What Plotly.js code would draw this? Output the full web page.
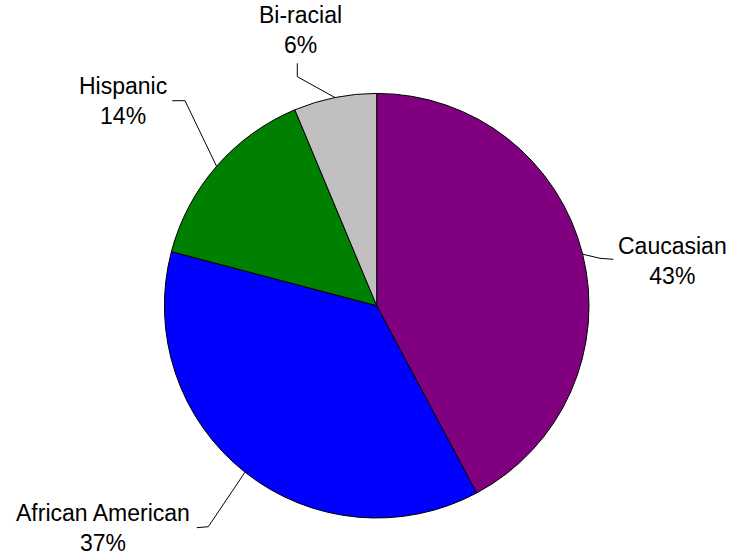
<!DOCTYPE html>
<html>
<head>
<meta charset="utf-8">
<script src="https://cdn.plot.ly/plotly-3.0.1.min.js"></script>
<style>html,body{margin:0;padding:0;background:#fff;}</style>
</head>
<body>
<div id="chart" style="width:733px;height:555px;"></div>
<script>
// Data
var categories = ['Caucasian', 'African American', 'Hispanic', 'Bi-racial'];
var values = [42.2, 36.9, 14.6, 6.3];
var percentLabels = ['43%', '37%', '14%', '6%'];
var colors = ['#800080', '#0000FF', '#008000', '#C0C0C0'];

var W = 733, H = 555;
var cx = 376.7, cy = 305.7, R = 212.3;

function px(x) { return x / W; }
function py(y) { return 1 - y / H; }

// label placement (layout only): text center and leader-line start/elbow
var labelLayout = [
  {tx: 672.5, ty: 261, start: [613.3, 259.3], elbow: [600, 258.3]},
  {tx: 102.5, ty: 528, start: [196.7, 527.7], elbow: [208.3, 526.7]},
  {tx: 123, ty: 101, start: [172.3, 100.7], elbow: [185, 100.7]},
  {tx: 300, ty: 29.5, start: [297.3, 63.3], elbow: [297.3, 76.7]}
];

var total = values.reduce(function (a, b) { return a + b; }, 0);
var cum = 0;
var annotations = [], shapes = [];
for (var i = 0; i < values.length; i++) {
  var midFrac = (cum + values[i] / 2) / total;
  cum += values[i];
  var th = midFrac * 2 * Math.PI;
  var ex = cx + R * Math.sin(th), ey = cy - R * Math.cos(th);
  var L = labelLayout[i];
  shapes.push({
    type: 'path', xref: 'paper', yref: 'paper',
    path: 'M' + px(L.start[0]) + ',' + py(L.start[1]) +
          ' L' + px(L.elbow[0]) + ',' + py(L.elbow[1]) +
          ' L' + px(ex) + ',' + py(ey),
    line: {color: '#000000', width: 1}
  });
  annotations.push({
    xref: 'paper', yref: 'paper', x: px(L.tx), y: py(L.ty),
    xanchor: 'center', yanchor: 'middle', showarrow: false,
    text: categories[i] + '<br>' + percentLabels[i],
    align: 'center',
    font: {family: 'Liberation Sans, Arial, sans-serif', size: 23, color: '#000000'}
  });
}

var trace = {
  type: 'pie',
  labels: categories,
  values: values,
  sort: false,
  direction: 'clockwise',
  rotation: 0,
  textinfo: 'none',
  hoverinfo: 'label+percent',
  marker: {colors: colors, line: {color: '#000000', width: 1}},
  domain: {x: [px(cx - R), px(cx + R)], y: [py(cy + R), py(cy - R)]},
  showlegend: false
};

var layout = {
  width: W, height: H, autosize: false,
  margin: {l: 0, r: 0, t: 0, b: 0},
  paper_bgcolor: '#ffffff', plot_bgcolor: '#ffffff',
  showlegend: false,
  annotations: annotations,
  shapes: shapes
};

Plotly.newPlot('chart', [trace], layout, {displayModeBar: false, staticPlot: true});
</script>
</body>
</html>
